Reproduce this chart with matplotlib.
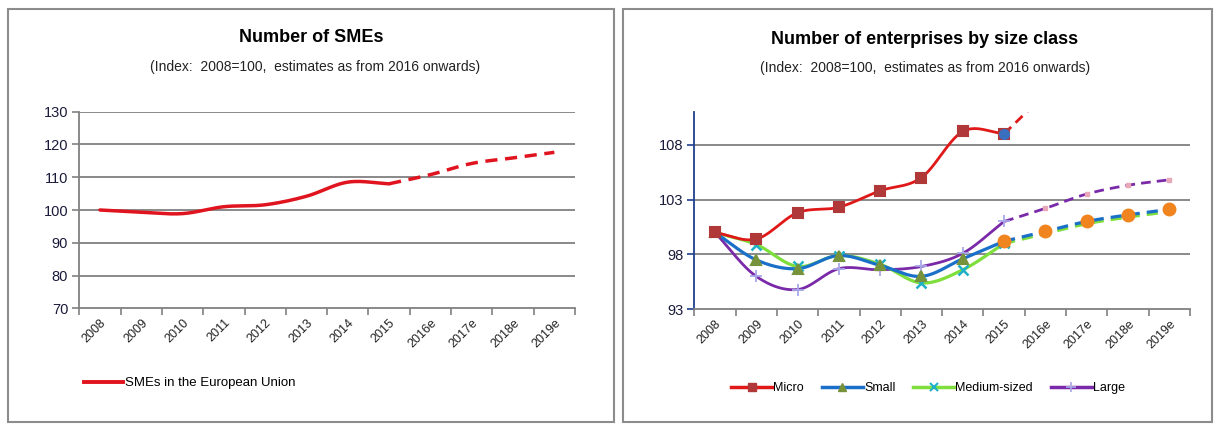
import numpy as np
import matplotlib
matplotlib.use("Agg")
from matplotlib import pyplot as plt
from matplotlib.lines import Line2D
from matplotlib.patches import Rectangle

plt.rcParams['font.family'] = ['Liberation Sans', 'DejaVu Sans']

years = ["2008", "2009", "2010", "2011", "2012", "2013", "2014", "2015",
         "2016e", "2017e", "2018e", "2019e"]

# left chart: SMEs in the EU (index 2008=100)
smes = [100, 99.3, 98.9, 101.0, 101.6, 104.2, 108.5, 108.0, 110.8, 114.2, 115.9, 117.6]

# right chart: enterprises by size class
micro = [100, 99.4, 101.8, 102.3, 103.8, 105.0, 109.2, 109.0, 112.5, 115.0, 117.0, 118.5]
small = [100, 97.5, 96.7, 97.9, 97.0, 96.0, 97.6, 99.2, 100.1, 101.0, 101.6, 102.1]
medium = [100, 98.9, 96.9, 97.9, 97.1, 95.4, 96.6, 99.0, 99.9, 100.8, 101.4, 101.9]
large = [100, 96.0, 94.8, 96.7, 96.6, 96.9, 98.1, 101.0, 102.2, 103.5, 104.3, 104.8]

last_actual = 7  # 2015


def smooth(x, y, n=25):
    # catmull-rom style curve through the points (like excel smoothed lines)
    x = np.asarray(x, float)
    y = np.asarray(y, float)
    xs, ys = [], []
    for i in range(len(x) - 1):
        a = max(i - 1, 0)
        b = min(i + 2, len(x) - 1)
        m1 = (y[i + 1] - y[a]) / (x[i + 1] - x[a]) * (x[i + 1] - x[i])
        m2 = (y[b] - y[i]) / (x[b] - x[i]) * (x[i + 1] - x[i])
        t = np.linspace(0, 1, n)
        h00 = 2 * t**3 - 3 * t**2 + 1
        h10 = t**3 - 2 * t**2 + t
        h01 = -2 * t**3 + 3 * t**2
        h11 = t**3 - t**2
        xs.append(x[i] + t * (x[i + 1] - x[i]))
        ys.append(h00 * y[i] + h10 * m1 + h01 * y[i + 1] + h11 * m2)
    return np.concatenate(xs), np.concatenate(ys)


def series(ax, vals, color, lw, marker=None, mcolor=None, ms=8, mew=1.5):
    x = np.arange(len(vals))
    k = last_actual
    sx, sy = smooth(x[:k + 1], vals[:k + 1])
    ax.plot(sx, sy, color=color, lw=lw, solid_capstyle='round', zorder=3)
    ex, ey = smooth(x[k:], vals[k:])
    ax.plot(ex, ey, color=color, lw=lw, ls=(0, (3.5, 2.2)), zorder=3)
    if marker:
        ax.plot(x[:k + 1], vals[:k + 1], ls='none', marker=marker, ms=ms,
                color=mcolor, mec=mcolor, mew=mew, zorder=4)


def style_axes(ax, ylim, yticks, grid_ticks, ycolor):
    n = len(years)
    ax.set_xlim(-0.5, n - 0.5)
    ax.set_ylim(*ylim)
    ax.set_yticks(yticks)
    ax.set_xticks(np.arange(n))
    ax.set_xticklabels(years, rotation=45, ha='right', va='top',
                       rotation_mode='anchor', fontsize=9, color='#222222')
    ax.set_xticks(np.arange(n + 1) - 0.5, minor=True)
    ax.tick_params(axis='x', which='major', length=0, pad=6)
    ax.tick_params(axis='x', which='minor', length=5, width=1.2, color='#808080')
    ax.tick_params(axis='y', length=5, width=1.2, color=ycolor, labelsize=10.5,
                   labelcolor='#1a1a3a', pad=3)
    for s in ['top', 'right']:
        ax.spines[s].set_visible(False)
    ax.spines['bottom'].set_color('#808080')
    ax.spines['bottom'].set_linewidth(1.3)
    ax.spines['left'].set_color(ycolor)
    ax.spines['left'].set_linewidth(1.3)
    for g in grid_ticks:
        ax.axhline(g, color='#808080', lw=1.3, zorder=1)


fig = plt.figure(figsize=(12.17, 4.24), dpi=100)

# panel frames
for x0, x1 in [(8, 614), (623, 1212)]:
    fig.patches.append(Rectangle((x0 / 1217, 1 - 422 / 424), (x1 - x0) / 1217, (422 - 9) / 424,
                                 transform=fig.transFigure, fill=False,
                                 edgecolor='#8c8c8c', lw=1.5))

subtitle = "(Index:  2008=100,  estimates as from 2016 onwards)"

# left chart
ax1 = fig.add_axes([79.3 / 1217, 1 - 308.3 / 424, 495.7 / 1217, 196.6 / 424])
style_axes(ax1, (70, 130), np.arange(70, 131, 10), np.arange(80, 131, 10), '#808080')
series(ax1, smes, '#e0141e', 2.5)
fig.text(311 / 1217, 1 - 37 / 424, "Number of SMEs", ha='center', va='center',
         fontsize=13, fontweight='bold')
fig.text(315 / 1217, 1 - 67 / 424, subtitle,
         ha='center', va='center', fontsize=10, color='#222222')
fig.legend([Line2D([], [], color='#e0141e', lw=2.8)], ["SMEs in the European Union"],
           loc='center left', bbox_to_anchor=(72 / 1217, 1 - 383 / 424), frameon=False,
           handlelength=3.0, handletextpad=0.1, fontsize=9.5)

# right chart
ax2 = fig.add_axes([694.3 / 1217, 1 - 309.3 / 424, 495.7 / 1217, 197.6 / 424])
style_axes(ax2, (93, 111), [93, 98, 103, 108], [98, 103, 108], '#1f3f8f')

c_micro, c_small, c_med, c_large = '#e01818', '#1a70c8', '#7ede3c', '#7a2aa8'
m_micro, m_small, m_med, m_large = '#b03838', '#76933c', '#1fb0c8', '#a8a8e8'

series(ax2, large, c_large, 2.0, '+', m_large, ms=9, mew=1.3)
series(ax2, medium, c_med, 2.3, 'x', m_med, ms=7.5, mew=1.8)
series(ax2, small, c_small, 2.3, '^', m_small, ms=7)
series(ax2, micro, c_micro, 2.0, 's', m_micro, ms=7.5)

xi = np.arange(len(years))
k = last_actual
ax2.plot(xi[k:], small[k:], ls='none', marker='o', ms=9, color='#f0841e', zorder=5)
ax2.plot(xi[k + 1:], large[k + 1:], ls='none', marker='s', ms=3, color='#e8a8b8', zorder=5)
ax2.plot([xi[k]], [micro[k]], ls='none', marker='o', ms=7, color='#3a6fc0', zorder=6)

fig.text(925 / 1217, 1 - 40 / 424, "Number of enterprises by size class", ha='center',
         va='center', fontsize=13, fontweight='bold')
fig.text(925 / 1217, 1 - 68 / 424, subtitle,
         ha='center', va='center', fontsize=10, color='#222222')

handles = [Line2D([], [], color=c_micro, lw=2.5, marker='s', ms=6, mfc=m_micro, mec=m_micro),
           Line2D([], [], color=c_small, lw=2.5, marker='^', ms=6, mfc=m_small, mec=m_small),
           Line2D([], [], color=c_med, lw=2.5, marker='x', ms=6, mec=m_med, mew=1.5),
           Line2D([], [], color=c_large, lw=2.5, marker='+', ms=7, mec=m_large, mew=1.2)]
fig.legend(handles, ["Micro", "Small", "Medium-sized", "Large"], loc='center',
           bbox_to_anchor=(928 / 1217, 1 - 388 / 424), ncol=4, frameon=False,
           handlelength=3.3, handletextpad=0.1, columnspacing=1.4, fontsize=9)

fig.savefig("out.png", dpi=100)
